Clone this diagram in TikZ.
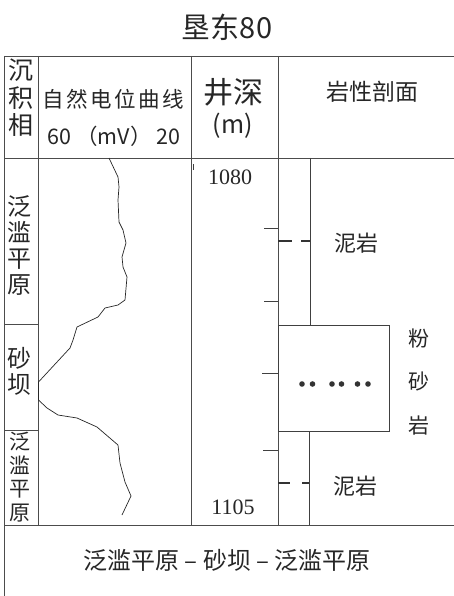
\documentclass[tikz,border=0pt]{standalone}
\usepackage{fontspec}
\setmainfont{Liberation Serif}
\newfontfamily\cjk{Noto Sans CJK SC}
\newfontfamily\cjkwide{Noto Sans CJK SC}[LetterSpace=12]
\usetikzlibrary{positioning}
\tikzset{
  rule/.style={draw=black!70, line width=0.9pt},
  thin rule/.style={draw=black!75, line width=0.7pt},
  mud/.style={draw=black!80, line width=2.4pt},
  label/.style={inner sep=0pt, text=black!85, align=center},
  cjktext/.style={label, font=\cjk\fontsize{#1}{#1}\selectfont},
  column/.style 2 args={label, font=\cjk\fontsize{#1}{#2}\selectfont},
  depth/.style={label, font=\fontsize{22}{22}\selectfont},
}
\begin{document}
\begin{tikzpicture}[x=1pt,y=-1pt]
  \useasboundingbox (0,0) rectangle (454,596);
  \node[cjktext=29] (title) at (227,27) {垦东80};
  \node[column={25}{27.5}] (facieshead) at (21,98) {沉\\积\\相};
  \node[label, font=\cjkwide\fontsize{21.5}{21.5}\selectfont] (sphead) at (113,99) {自然电位曲线};
  \node[cjktext=21.5] (sprange) at (114,136) {60 （mV） 20};
  \node[cjktext=30] (depthhead) at (233,92) {井深};
  \node[cjktext=25, below=7pt of depthhead] (depthunit) {(m)};
  \node[cjktext=23] (lithhead) at (372,92) {岩性剖面};
  \node[column={24}{26}] (facies1) at (19,246) {泛\\滥\\平\\原};
  \node[column={24}{26}] (facies2) at (19,371) {砂\\坝};
  \node[column={21}{23.5}] (facies3) at (20,477) {泛\\滥\\平\\原};
  \node[depth] (top) at (230,177) {1080};
  \node[depth] (bottom) at (233,507) {1105};
  \node[cjktext=22] (mud1) at (356,243) {泥岩};
  \node[cjktext=22] (mud2) at (355,486) {泥岩};
  \node[column={21}{43.5}] (silt) at (419,382) {粉\\砂\\岩};
  \node[cjktext=24] (summary) at (227,560) {泛滥平原 – 砂坝 – 泛滥平原};
  \begin{scope}[rule]
    \draw (4,56) -- (454,56);
    \draw (4,158) -- (454,158);
    \draw (4,525) -- (454,525);
    \draw (4,56) -- (4,596);
    \draw (38,56) -- (38,525);
    \draw (191,56) -- (191,525);
    \draw (278,56) -- (278,525);
    \draw (4,324) -- (38,324);
    \draw (4,430) -- (38,430);
  \end{scope}
  \begin{scope}[thin rule]
    \draw (310,158) -- (310,325);
    \draw (278,325) rectangle (389,431);
    \draw (309,431) -- (309,525);
    \draw (193.5,164) -- (193.5,170);
    \draw (264,228) -- (278,228);
    \draw (264,301) -- (278,301);
    \draw (262,373) -- (278,373);
    \draw (263,450) -- (278,450);
  \end{scope}
  \begin{scope}[mud]
    \draw (278,241) -- (292,241);
    \draw (301,241) -- (310,241);
    \draw (278,483) -- (290,483);
    \draw (302,483) -- (309,483);
  \end{scope}
  \foreach \x in {302,312.5,332,341.5,357.5,368}
    \fill[black!80] (\x,384) circle (2.8pt);
  \draw[black!85, line width=0.7pt, line join=round]
    (109,158) -- (118,177) -- (119,187) -- (118,200) -- (119,222)
    -- (123,230) -- (126,243) -- (122,257) -- (123,267) -- (127,277)
    -- (125,300) -- (118,305) -- (105,308) -- (98,317) -- (77,327)
    -- (73,340) -- (70,348) -- (38.5,382) -- (38.5,400) -- (47,408)
    -- (58,415) -- (77,418) -- (97,427) -- (118,445) -- (120,463)
    -- (125,482) -- (131,496) -- (122,515);
\end{tikzpicture}
\end{document}
